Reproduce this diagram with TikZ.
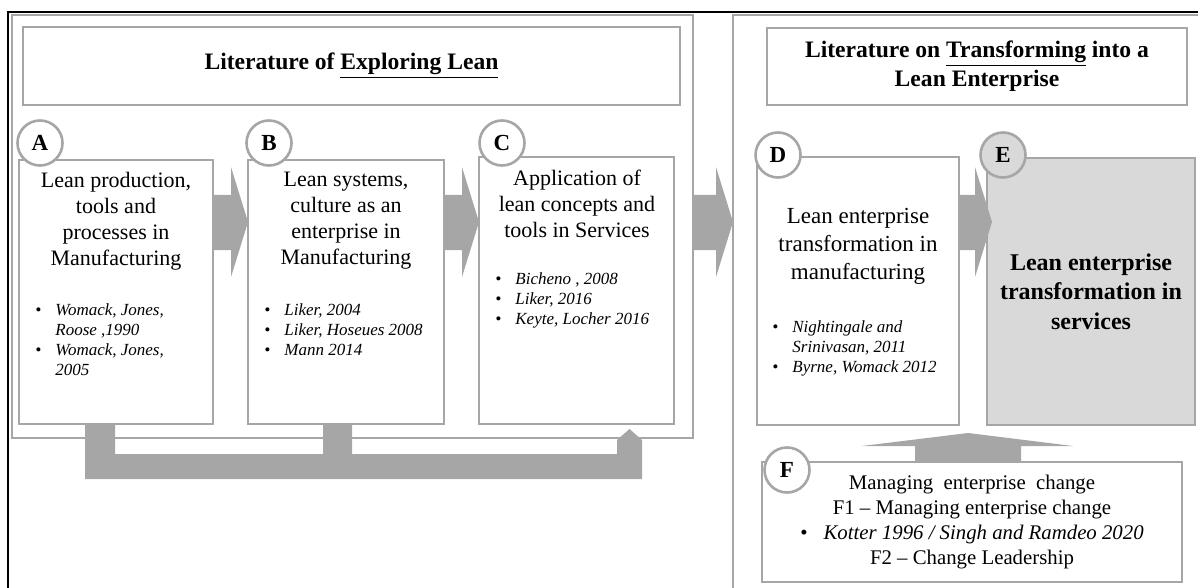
\documentclass[tikz,border=0pt]{standalone}
\usepackage{fontspec}
\setmainfont{Liberation Serif}
\usetikzlibrary{calc,positioning}

\definecolor{framegray}{HTML}{A6A6A6}
\definecolor{fillgray}{HTML}{D9D9D9}

% bullet with fixed gap before the reference
\newcommand{\bul}{\makebox[10pt][l]{\textbullet}}
\newcommand{\ind}{\hspace*{10pt}}
% grey block arrow from #1 to tip #2
\newcommand{\flowarrow}[2]{%
  \fill[arrowfill] ($(#1)+(0,-27)$) -- ($(#2)+(-17,-27)$) -- ($(#2)+(-17,-55)$) -- (#2)
    -- ($(#2)+(-17,55)$) -- ($(#2)+(-17,28)$) -- ($(#1)+(0,28)$) -- cycle;}

\begin{document}
\begin{tikzpicture}[
    x=0.5pt, y=-0.5pt,
    panel/.style={draw=framegray, line width=1.2pt, anchor=north west, inner sep=0pt, outer sep=0pt},
    heading/.style={panel, align=center, font=\bfseries\fontsize{11.8}{14.5}\selectfont},
    card/.style={panel, line width=1.3pt, fill=white},
    badge/.style={circle, draw=framegray, line width=1.3pt, fill=white, minimum size=22.5pt,
        inner sep=0pt, font=\bfseries\fontsize{11.5}{12}\selectfont},
    maintext/.style={align=center, inner sep=0pt, font=\fontsize{11}{13}\selectfont},
    reftext/.style={align=left, anchor=west, inner sep=0pt, font=\itshape\fontsize{8.5}{10}\selectfont},
    arrowfill/.style={fill=framegray}
]
\clip (0,0) rectangle (1198,588);

% outer frame and the two panels
\draw[black, line width=0.8pt] (8,700) -- (8,12) -- (1300,12);
\node[panel, minimum width=340.5pt, minimum height=211.5pt] (leftpanel) at (12,15) {};
\node[panel, minimum width=300pt, minimum height=350pt] (rightpanel) at (733,15) {};

\node[heading, minimum width=328.5pt, minimum height=39pt] (head1) at (23,27)
    {Literature of \underline{Exploring Lean}};
\node[heading, minimum width=210pt, minimum height=38.5pt] (head2) at (767,28)
    {Literature on \underline{Transforming} into a\\ Lean Enterprise};

% exploring lean
\node[card, minimum width=97pt, minimum height=132pt] (boxA) at (19,160) {};
\node[card, minimum width=98pt, minimum height=132pt] (boxB) at (248,160) {};
\node[card, minimum width=97.5pt, minimum height=133.5pt] (boxC) at (479,157) {};

\node[maintext] (txtA) at (116,221) {Lean production,\\ tools and\\ processes in\\ Manufacturing};
\node[maintext] (txtB) at (346,221) {Lean systems,\\ culture as an\\ enterprise in\\ Manufacturing};
\node[maintext] (txtC) at (577,204) {Application of\\ lean concepts and\\ tools in Services};

\node[reftext] (refA) at (35,340) {\bul Womack, Jones,\\ \ind Roose ,1990\\ \bul Womack, Jones,\\ \ind 2005};
\node[reftext] (refB) at (264,330) {\bul Liker, 2004\\ \bul Liker, Hoseues 2008\\ \bul Mann 2014};
\node[reftext] (refC) at (495,300) {\bul Bicheno , 2008\\ \bul Liker, 2016\\ \bul Keyte, Locher 2016};

% transforming
\node[card, minimum width=101pt, minimum height=134pt] (boxD) at (757,157) {};
\node[card, fill=fillgray, minimum width=104pt, minimum height=133.5pt, align=center,
    font=\bfseries\fontsize{12}{14.8}\selectfont] (boxE) at (987,158)
    {Lean enterprise\\ transformation in\\ services};
\node[maintext, font=\fontsize{11.5}{14}\selectfont] (txtD) at (858,246)
    {Lean enterprise\\ transformation in\\ manufacturing};
\node[reftext] (refD) at (772,348) {\bul Nightingale and\\ \ind Srinivasan, 2011\\ \bul Byrne, Womack 2012};

\node[card, minimum width=210pt, minimum height=60pt, align=center,
    font=\fontsize{10.4}{12.5}\selectfont] (boxF) at (762,462)
    {Managing \ enterprise \ change\\ F1 -- Managing enterprise change\\
     \textbullet\hspace{8pt}\textit{Kotter 1996 / Singh and Ramdeo 2020}\hspace*{25pt}\\
     F2 -- Change Leadership};

% block arrows
\flowarrow{boxA.east |- 0,222}{boxB.west |- 0,222}
\flowarrow{boxB.east |- 0,222}{boxC.west |- 0,222}
\flowarrow{leftpanel.east |- 0,222}{rightpanel.west |- 0,222}
\coordinate (tipE) at ($(boxE.west |- 0,222)+(5,0)$);
\flowarrow{boxD.east |- 0,222}{tipE}

\coordinate (fup) at (968,0 |- boxF.north);
\fill[arrowfill] ($(fup)+(-53,0)$) -- ($(fup)+(-53,-16)$) -- ($(fup)+(-106,-16)$) -- ($(fup)+(0,-29)$)
    -- ($(fup)+(105,-16)$) -- ($(fup)+(53,-16)$) -- ($(fup)+(53,0)$) -- cycle;

% feedback from A and B back to C
\fill[arrowfill] (85,0 |- boxA.south) -- (85,479) -- (642,479) -- (642,440) -- (629.5,429)
    -- (617,440) -- (617,454) -- (352,454) -- (352,0 |- boxB.south) -- (323,0 |- boxB.south)
    -- (323,454) -- (115,454) -- (115,0 |- boxA.south) -- cycle;

% letters
\node[badge] (cA) at ([shift={(21,-17)}]boxA.north west) {A};
\node[badge] (cB) at ([shift={(21,-17)}]boxB.north west) {B};
\node[badge] (cC) at ([shift={(23,-14)}]boxC.north west) {C};
\node[badge] (cD) at ([shift={(21,-2)}]boxD.north west) {D};
\node[badge, fill=fillgray] (cE) at ([shift={(16,-3)}]boxE.north west) {E};
\node[badge] (cF) at ([shift={(25,8)}]boxF.north west) {F};
\end{tikzpicture}
\end{document}
